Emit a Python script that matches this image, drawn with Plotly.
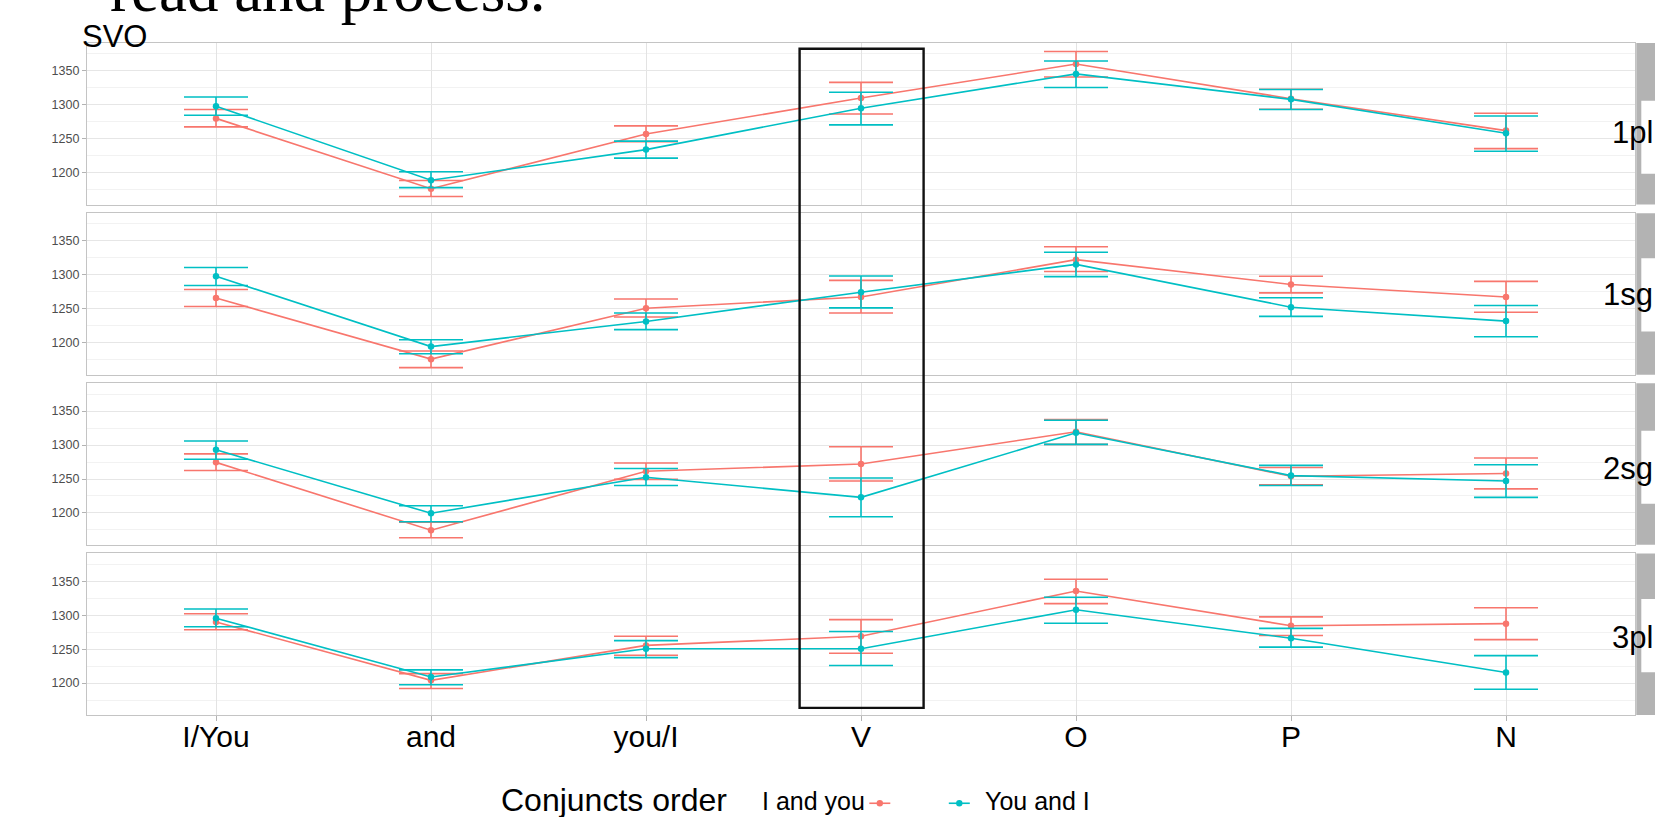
import plotly.graph_objects as go

# ---------------- data ----------------
categories = ["I/You", "and", "you/I", "V", "O", "P", "N"]
panels = ["1pl", "1sg", "2sg", "3pl"]
series_names = ["I and you", "You and I"]

# 1pl
iandyou_1pl = [1280, 1176.5, 1257, 1310, 1360, 1309, 1262]
iandyou_1pl_lo = [1267.5, 1165, 1245.5, 1286.5, 1341, 1293.5, 1235.5]
iandyou_1pl_hi = [1293, 1188.5, 1269, 1333, 1378.5, 1323, 1287.5]
youandi_1pl = [1298, 1189, 1234, 1295, 1345.5, 1308, 1258]
youandi_1pl_lo = [1284.5, 1178, 1221.5, 1270.5, 1325.5, 1293, 1231.5]
youandi_1pl_hi = [1311.5, 1201.5, 1246.5, 1318.5, 1364.5, 1322.5, 1283.5]

# 1sg
iandyou_1sg = [1266, 1176, 1251, 1267.5, 1322.5, 1286, 1267.5]
iandyou_1sg_lo = [1253.5, 1163.5, 1238, 1244, 1305, 1273.5, 1245]
iandyou_1sg_hi = [1278.5, 1188, 1264.5, 1292, 1341.5, 1298, 1290.5]
youandi_1sg = [1298, 1194.5, 1231.5, 1274.5, 1315.5, 1252.5, 1232]
youandi_1sg_lo = [1284.5, 1184, 1219.5, 1251.5, 1297.5, 1239, 1209]
youandi_1sg_hi = [1311, 1204.5, 1244, 1298.5, 1333.5, 1266.5, 1255]

# 2sg
iandyou_2sg = [1274.5, 1174.5, 1261.5, 1272, 1319.5, 1254, 1258]
iandyou_2sg_lo = [1262.5, 1163.5, 1249.5, 1247, 1301, 1241.5, 1235.5]
iandyou_2sg_hi = [1287, 1186.5, 1273.5, 1297.5, 1337.5, 1267, 1281]
youandi_2sg = [1293, 1199.5, 1252.5, 1223, 1318, 1255, 1247]
youandi_2sg_lo = [1279, 1187, 1240.5, 1194.5, 1301, 1240.5, 1223]
youandi_2sg_hi = [1306, 1210.5, 1265.5, 1251.5, 1336.5, 1270, 1271]

# 3pl
iandyou_3pl = [1290, 1204, 1255.5, 1269, 1335.5, 1284.5, 1287.5]
iandyou_3pl_lo = [1278.5, 1192, 1241, 1244, 1317, 1270, 1264]
iandyou_3pl_hi = [1302, 1214, 1269, 1293.5, 1353, 1297.5, 1311]
youandi_3pl = [1295.5, 1209, 1250.5, 1250.5, 1308, 1266, 1215.5]
youandi_3pl_lo = [1283, 1197.5, 1237.5, 1226, 1288, 1253, 1191]
youandi_3pl_hi = [1309, 1219.5, 1262.5, 1276, 1326.5, 1280.5, 1240.5]

y_ticks = [1200, 1250, 1300, 1350]

panel_data = {
    "1pl": [(iandyou_1pl, iandyou_1pl_lo, iandyou_1pl_hi), (youandi_1pl, youandi_1pl_lo, youandi_1pl_hi)],
    "1sg": [(iandyou_1sg, iandyou_1sg_lo, iandyou_1sg_hi), (youandi_1sg, youandi_1sg_lo, youandi_1sg_hi)],
    "2sg": [(iandyou_2sg, iandyou_2sg_lo, iandyou_2sg_hi), (youandi_2sg, youandi_2sg_lo, youandi_2sg_hi)],
    "3pl": [(iandyou_3pl, iandyou_3pl_lo, iandyou_3pl_hi), (youandi_3pl, youandi_3pl_lo, youandi_3pl_hi)],
}

# ---------------- style / layout constants ----------------
W, H = 1655, 817
PX0, PX1 = 86.7, 1634.7      # plot area left/right in px
PY0, PY1 = 43.3, 714.8       # plot area top/bottom in px
PITCH, PH = 170.0, 161.5     # panel pitch and height in px
colors = ["#F8766D", "#00BFC4"]
FONT = "Liberation Sans, Arial, Helvetica, sans-serif"


def pxx(px):
    return (px - PX0) / (PX1 - PX0)


def pxy(py):
    return (PY1 - py) / (PY1 - PY0)


fig = go.Figure()
shapes = []
annotations = []

for i, p in enumerate(panels):
    ax = "" if i == 0 else str(i + 1)
    top = PY0 + i * PITCH
    bot = top + PH
    for s, (mean, lo, hi) in enumerate(panel_data[p]):
        fig.add_trace(go.Scatter(
            x=categories, y=mean,
            xaxis="x" + ax, yaxis="y" + ax,
            mode="lines+markers",
            line=dict(color=colors[s], width=1.6),
            marker=dict(color=colors[s], size=6.5),
            error_y=dict(type="data", symmetric=False,
                         array=[h - m for h, m in zip(hi, mean)],
                         arrayminus=[m - l for m, l in zip(mean, lo)],
                         color=colors[s], thickness=1.6, width=32),
            name=series_names[s], showlegend=False, hoverinfo="skip",
        ))
    last = i == len(panels) - 1
    fig.layout["xaxis" + ax] = dict(
        domain=[0, 1], anchor="y" + ax, type="category",
        categoryorder="array", categoryarray=categories,
        range=[-0.6, 6.6], showgrid=True, gridcolor="#E3E3E3", gridwidth=1,
        showticklabels=last, ticks="outside" if last else "",
        ticklen=5, tickcolor="#B3B3B3", tickwidth=1,
        ticklabelstandoff=-10,
        tickfont=dict(family=FONT, size=30, color="black"),
        showline=True, mirror=True, linecolor="#C4C4C4", linewidth=1.2,
        zeroline=False,
        matches=None if i == 0 else "x",
    )
    fig.layout["yaxis" + ax] = dict(
        domain=[pxy(bot), pxy(top)], anchor="x" + ax,
        range=[1153, 1391], tickvals=y_ticks,
        showgrid=True, gridcolor="#E6E6E6", gridwidth=1,
        minor=dict(dtick=25, tick0=1175, showgrid=True, gridcolor="#F2F2F2", gridwidth=1),
        ticks="outside", ticklen=4, tickcolor="#B3B3B3", tickwidth=1,
        tickfont=dict(family=FONT, size=12.5, color="#4D4D4D"),
        showline=True, mirror=True, linecolor="#C4C4C4", linewidth=1.2,
        zeroline=False,
    )
    # facet strip on the right
    shapes.append(dict(type="rect", xref="paper", yref="paper",
                       x0=pxx(1636), x1=pxx(1670), y0=pxy(bot), y1=pxy(top),
                       fillcolor="#B3B3B3", line=dict(width=0), layer="above"))

strip_box_centers = [137.5, 295, 467.3, 635.5]
strip_text_centers = [132.5, 295, 468.7, 637.5]
for i, p in enumerate(panels):
    c = strip_box_centers[i]
    shapes.append(dict(type="rect", xref="paper", yref="paper",
                       x0=pxx(1641), x1=pxx(1670), y0=pxy(c + 36.5), y1=pxy(c - 36.5),
                       fillcolor="white", line=dict(width=0), layer="above"))
    annotations.append(dict(text=p, xref="paper", yref="paper",
                            x=pxx(1655), y=pxy(strip_text_centers[i]),
                            xanchor="right", yanchor="middle", showarrow=False,
                            font=dict(family=FONT, size=31, color="black")))

# highlight box around V
shapes.append(dict(type="rect", xref="paper", yref="paper",
                   x0=pxx(799.3), x1=pxx(923.3), y0=pxy(707.7), y1=pxy(49),
                   line=dict(color="#111111", width=2.4), fillcolor="rgba(0,0,0,0)",
                   layer="above"))

# "SVO" title and the cut-off heading
annotations.append(dict(text="SVO", xref="paper", yref="paper",
                        x=pxx(80), y=pxy(56.5), xanchor="left", yanchor="bottom",
                        showarrow=False, font=dict(family=FONT, size=31, color="black")))
annotations.append(dict(text="read and process.", xref="paper", yref="paper",
                        x=pxx(108), y=pxy(27), xanchor="left", yanchor="bottom",
                        showarrow=False,
                        font=dict(family="Liberation Serif, Times New Roman, serif", size=63,
                                  color="black")))

# legend (ggplot style: label, then key)
annotations.append(dict(text="Conjuncts order", xref="paper", yref="paper",
                        x=pxx(499), y=pxy(800), xanchor="left", yanchor="middle",
                        showarrow=False, font=dict(family=FONT, size=32, color="black")))
annotations.append(dict(text="I and you", xref="paper", yref="paper",
                        x=pxx(760), y=pxy(801), xanchor="left", yanchor="middle",
                        showarrow=False, font=dict(family=FONT, size=25, color="black")))
annotations.append(dict(text="You and I", xref="paper", yref="paper",
                        x=pxx(983), y=pxy(801), xanchor="left", yanchor="middle",
                        showarrow=False, font=dict(family=FONT, size=25, color="black")))
for cx, col in [(879.5, colors[0]), (959, colors[1])]:
    shapes.append(dict(type="line", xref="paper", yref="paper",
                       x0=pxx(cx - 10.5), x1=pxx(cx + 10.5), y0=pxy(803), y1=pxy(803),
                       line=dict(color=col, width=1.6)))
    shapes.append(dict(type="circle", xref="paper", yref="paper",
                       x0=pxx(cx - 3.2), x1=pxx(cx + 3.2), y0=pxy(806.2), y1=pxy(799.8),
                       fillcolor=col, line=dict(width=0)))

fig.update_layout(
    width=W, height=H,
    margin=dict(l=PX0, r=W - PX1, t=PY0, b=H - PY1, pad=0),
    paper_bgcolor="white", plot_bgcolor="white",
    showlegend=False,
    shapes=shapes, annotations=annotations,
    font=dict(family=FONT),
)

fig.write_html("out.html", config={"displayModeBar": False},
               post_script="document.body.style.margin='0';document.body.style.overflow='hidden';")
